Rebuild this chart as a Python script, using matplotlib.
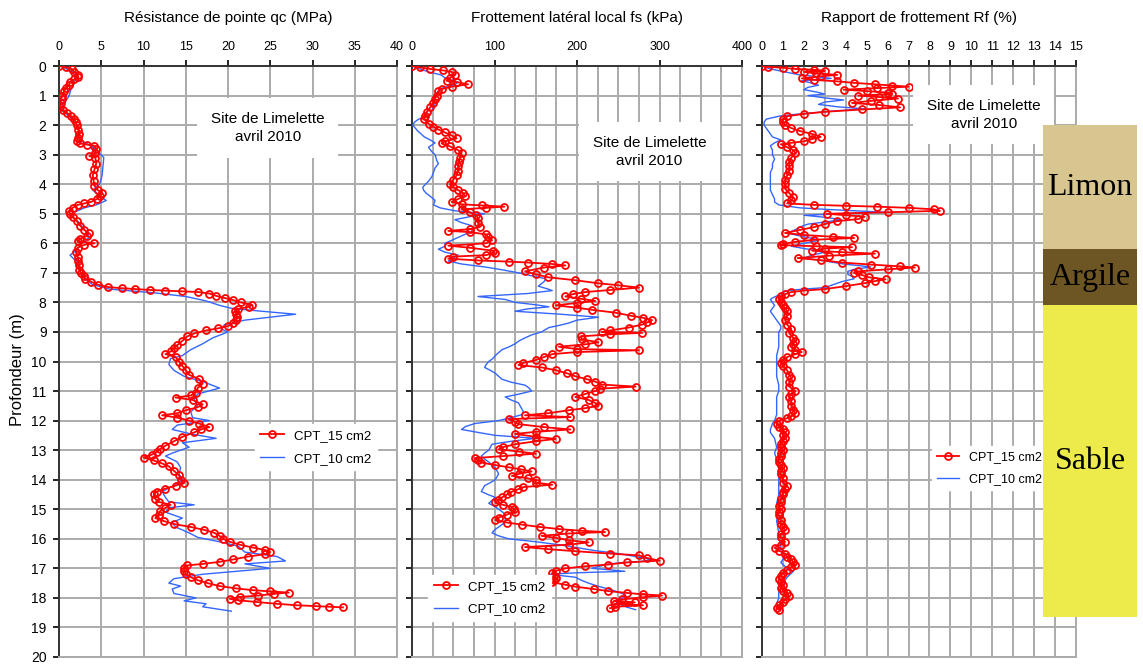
import matplotlib
matplotlib.use("Agg")
import matplotlib.pyplot as plt
from matplotlib.ticker import MultipleLocator

plt.rcParams['font.family'] = ['Liberation Sans', 'DejaVu Sans']

# --- qc (MPa), CPT 15 cm2 ---
qc15_z = [0.00, 0.05, 0.10, 0.20, 0.30, 0.38, 0.45, 0.55, 0.65, 0.75, 0.85, 1.00, 1.10, 1.25, 1.40,
          1.50, 1.60, 1.70, 1.80, 1.90, 2.00, 2.15, 2.30, 2.45, 2.55, 2.62, 2.66, 2.70, 2.80, 2.95,
          3.05, 3.10, 3.30, 3.50, 3.70, 3.90, 4.05, 4.20, 4.30, 4.40, 4.50, 4.60, 4.65, 4.70, 4.80,
          4.90, 5.00, 5.10, 5.25, 5.40, 5.55, 5.65, 5.75, 5.85, 5.92, 6.00, 6.05, 6.15, 6.30, 6.45,
          6.60, 6.75, 6.90, 7.00, 7.10, 7.20, 7.30, 7.40, 7.48, 7.52, 7.55, 7.58, 7.60, 7.62, 7.65,
          7.70, 7.78, 7.85, 7.92, 8.00, 8.08, 8.15, 8.22, 8.30, 8.40, 8.50, 8.60, 8.70, 8.80, 8.88,
          8.95, 9.05, 9.15, 9.30, 9.45, 9.55, 9.65, 9.75, 9.85, 10.00, 10.15, 10.30, 10.45, 10.60,
          10.75, 10.90, 11.05, 11.15, 11.22, 11.30, 11.45, 11.55, 11.65, 11.75, 11.82, 11.90, 12.00,
          12.10, 12.22, 12.30, 12.40, 12.55, 12.70, 12.85, 12.95, 13.05, 13.15, 13.25, 13.35, 13.45,
          13.55, 13.70, 13.85, 14.00, 14.10, 14.20, 14.30, 14.40, 14.50, 14.65, 14.75, 14.85, 14.95,
          15.05, 15.20, 15.30, 15.40, 15.50, 15.60, 15.70, 15.80, 15.90, 16.00, 16.10, 16.20, 16.30,
          16.38, 16.45, 16.52, 16.60, 16.70, 16.78, 16.85, 16.90, 17.00, 17.10, 17.20, 17.30, 17.40,
          17.50, 17.60, 17.68, 17.74, 17.78, 17.82, 17.86, 17.92, 17.97, 18.03, 18.08, 18.14, 18.20,
          18.25, 18.28, 18.30, 18.32]
qc15_v = [0.0, 0.8, 1.5, 1.8, 2.2, 2.3, 1.8, 1.3, 1.2, 0.8, 0.6, 0.4, 0.3, 0.2, 0.1,
          0.5, 1.0, 1.4, 1.8, 2.0, 2.1, 2.3, 2.4, 2.2, 2.1, 2.5, 3.3, 4.2, 4.4, 4.3,
          3.6, 4.3, 4.4, 4.2, 4.0, 4.1, 4.2, 4.6, 5.1, 4.9, 4.5, 3.8, 3.0, 2.2, 1.6,
          1.2, 1.3, 1.6, 2.1, 2.5, 3.0, 3.5, 3.3, 2.5, 2.2, 4.2, 3.0, 2.2, 2.0, 2.2,
          2.3, 2.4, 2.4, 2.6, 3.0, 3.1, 3.8, 4.6, 5.8, 7.4, 9.0, 10.8, 12.5, 14.5, 16.5,
          17.8, 18.6, 19.6, 20.6, 21.5, 22.8, 22.5, 21.2, 20.8, 21.0, 21.1, 21.0, 20.6, 20.0, 18.8,
          17.4, 16.0, 15.2, 14.6, 14.0, 13.6, 13.3, 12.6, 13.8, 14.2, 14.6, 15.0, 15.4, 16.6,
          17.0, 16.4, 16.2, 15.6, 13.8, 15.8, 17.0, 16.4, 15.0, 14.0, 12.2, 14.0, 15.4,
          16.6, 17.8, 16.8, 16.0, 14.6, 13.6, 12.6, 12.0, 11.6, 11.0, 10.0, 11.2, 12.2,
          13.0, 13.6, 14.2, 14.4, 14.8, 13.8, 12.6, 11.6, 11.2, 11.4, 11.8, 13.2, 12.6,
          12.0, 11.8, 11.4, 12.4, 13.6, 15.6, 17.2, 18.4, 19.0, 19.4, 20.2, 21.4, 23.0,
          24.4, 25.0, 24.4, 22.4, 20.6, 19.0, 17.0, 15.2, 14.8, 14.8, 15.0, 15.6, 16.4,
          17.6, 19.0, 21.0, 23.0, 25.0, 27.2, 25.5, 23.6, 21.4, 20.2, 21.2, 23.4, 25.8,
          28.2, 30.4, 32.0, 33.6]

# --- qc (MPa), CPT 10 cm2 ---
qc10_z = [0.0, 0.2, 0.4, 0.6, 0.8, 1.0, 1.1, 1.3, 1.5, 1.7, 1.9, 2.2, 2.5, 2.7, 2.9, 3.1, 3.4, 3.7,
          4.0, 4.2, 4.4, 4.55, 4.7, 4.8, 4.95, 5.1, 5.3, 5.6, 5.8, 6.0, 6.2, 6.4, 6.6, 6.8, 7.0, 7.2,
          7.4, 7.55, 7.68, 7.8, 7.95, 8.1, 8.2, 8.3, 8.4, 8.5, 8.6, 8.75, 8.9, 9.0, 9.2, 9.4, 9.6,
          9.8, 9.9, 10.1, 10.3, 10.5, 10.7, 10.9, 11.1, 11.3, 11.5, 11.7, 11.9, 12.0, 12.15, 12.3,
          12.45, 12.6, 12.75, 12.9, 13.1, 13.2, 13.4, 13.6, 13.8, 14.0, 14.2, 14.4, 14.6, 14.75,
          14.85, 14.95, 15.1, 15.3, 15.45, 15.6, 15.8, 15.95, 16.1, 16.25, 16.45, 16.6, 16.75,
          16.85, 17.0, 17.1, 17.2, 17.35, 17.5, 17.6, 17.7, 17.85, 18.0, 18.1, 18.2, 18.3, 18.45]
qc10_v = [0.2, 1.6, 2.0, 1.8, 1.4, 1.2, 1.0, 0.4, 0.3, 1.2, 2.0, 2.4, 2.4, 3.8, 4.6, 5.3, 5.2, 5.1,
          4.8, 4.0, 4.8, 5.6, 4.4, 3.0, 1.8, 1.6, 2.4, 3.2, 3.6, 2.6, 2.2, 1.3, 2.0, 2.2, 2.6, 3.0,
          4.0, 6.0, 11.4, 15.0, 17.4, 19.0, 20.4, 24.0, 28.0, 25.0, 22.0, 19.6, 19.2, 20.0, 18.2, 17.0, 15.6,
          14.6, 13.2, 13.0, 13.6, 14.8, 17.2, 19.0, 16.4, 16.0, 16.4, 15.6, 15.8, 17.8, 14.0, 13.4,
          15.6, 18.6, 14.6, 15.4, 13.4, 12.6, 14.0, 14.4, 14.2, 14.6, 13.6, 12.2, 12.6, 13.0,
          16.0, 13.0, 12.6, 14.6, 13.4, 13.8, 15.4, 16.4, 19.0, 21.2, 22.0, 25.8, 26.8,
          22.0, 25.0, 21.0, 17.0, 13.6, 13.0, 14.4, 13.4, 13.6, 16.2, 14.8, 17.4, 17.0, 20.4]

# --- fs (kPa), CPT 15 cm2 ---
fs15_z = [0.00, 0.05, 0.10, 0.15, 0.20, 0.30, 0.40, 0.50, 0.55, 0.62, 0.70, 0.78, 0.85, 1.00, 1.10,
          1.25, 1.40, 1.55, 1.70, 1.80, 1.95, 2.05, 2.15, 2.25, 2.35, 2.45, 2.55, 2.62, 2.72, 2.85,
          2.95, 3.10, 3.25, 3.40, 3.55, 3.70, 3.85, 4.00, 4.10, 4.20, 4.30, 4.40, 4.50, 4.60, 4.68,
          4.72, 4.76, 4.80, 4.85, 4.95, 5.05, 5.15, 5.30, 5.45, 5.52, 5.58, 5.62, 5.70, 5.80, 5.90,
          6.00, 6.08, 6.15, 6.25, 6.32, 6.40, 6.45, 6.52, 6.58, 6.62, 6.65, 6.70, 6.75, 6.82, 6.95,
          7.05, 7.15, 7.25, 7.35, 7.42, 7.50, 7.58, 7.65, 7.72, 7.80, 7.88, 7.95, 8.02, 8.10, 8.18,
          8.25, 8.35, 8.45, 8.52, 8.60, 8.68, 8.75, 8.85, 8.95, 9.00, 9.03, 9.08, 9.15, 9.25, 9.35,
          9.42, 9.50, 9.58, 9.62, 9.68, 9.75, 9.85, 9.95, 10.05, 10.12, 10.20, 10.30, 10.40, 10.50,
          10.60, 10.68, 10.78, 10.85, 10.92, 11.00, 11.10, 11.20, 11.30, 11.40, 11.50, 11.58, 11.65,
          11.75, 11.82, 11.88, 11.95, 12.05, 12.12, 12.22, 12.30, 12.38, 12.45, 12.55, 12.62, 12.70,
          12.80, 12.90, 12.97, 13.05, 13.12, 13.20, 13.27, 13.35, 13.42, 13.50, 13.58, 13.65, 13.72,
          13.80, 13.87, 13.95, 14.02, 14.10, 14.17, 14.25, 14.32, 14.42, 14.50, 14.60, 14.70, 14.77,
          14.85, 14.92, 15.00, 15.08, 15.18, 15.28, 15.36, 15.45, 15.52, 15.60, 15.67, 15.73, 15.77,
          15.82, 15.90, 15.97, 16.05, 16.12, 16.20, 16.28, 16.35, 16.42, 16.50, 16.56, 16.65, 16.74,
          16.80, 16.87, 16.93, 17.00, 17.08, 17.15, 17.25, 17.32, 17.40, 17.47, 17.55, 17.62, 17.70,
          17.77, 17.83, 17.88, 17.92, 17.98, 18.05, 18.10, 18.15, 18.20, 18.25, 18.30, 18.35]
fs15_v = [0, 10, 22, 38, 48, 52, 46, 42, 55, 68, 48, 36, 32, 30, 28,
          26, 22, 18, 16, 15, 20, 26, 32, 40, 48, 54, 40, 36, 46, 56,
          60, 58, 57, 56, 56, 54, 50, 46, 50, 56, 62, 64, 56, 48, 60,
          85, 112, 90, 60, 70, 78, 80, 80, 82, 70, 44, 70, 90, 92, 97,
          90, 44, 70, 98, 100, 90, 50, 44, 80, 117, 140, 170, 186, 160, 137,
          150, 165, 198, 225, 250, 275, 240, 210, 195, 186, 205, 222, 200, 174, 200,
          218, 247, 265, 280, 291, 285, 279, 263, 240, 230, 279, 240, 205, 206, 226,
          210, 178, 200, 275, 200, 170, 160, 150, 135, 129, 157, 175, 188, 198,
          212, 222, 230, 271, 228, 222, 210, 198, 214, 222, 226, 210, 190,
          165, 137, 192, 117, 125, 129, 160, 192, 150, 125, 150, 174, 150,
          125, 110, 105, 130, 150, 110, 76, 80, 84, 100, 117, 132, 145,
          130, 121, 140, 150, 150, 170, 135, 129, 120, 115, 109, 104, 101,
          110, 121, 124, 125, 115, 105, 101, 115, 133, 155, 178, 206, 234,
          190, 157, 175, 190, 214, 190, 137, 165, 198, 240, 275, 285, 300,
          260, 238, 210, 186, 175, 170, 172, 174, 172, 170, 185, 198, 220,
          238, 260, 280, 303, 280, 255, 245, 270, 246, 280, 246, 240]

# --- fs (kPa), CPT 10 cm2 ---
fs10_z = [0.0, 0.1, 0.2, 0.3, 0.4, 0.55, 0.65, 0.75, 0.9, 1.0, 1.15, 1.3, 1.5, 1.7, 1.8, 1.9, 2.0,
          2.2, 2.4, 2.5, 2.6, 2.75, 2.9, 3.0, 3.2, 3.3, 3.45, 3.6, 3.75, 3.9, 4.1, 4.2, 4.3, 4.45,
          4.55, 4.7, 4.8, 4.9, 5.0, 5.1, 5.2, 5.3, 5.4, 5.5, 5.6, 5.75, 5.85, 6.0, 6.1, 6.2, 6.3,
          6.4, 6.5, 6.6, 6.7, 6.8, 6.9, 7.0, 7.1, 7.2, 7.3, 7.45, 7.55, 7.6, 7.7, 7.8, 7.9, 8.0,
          8.08, 8.15, 8.22, 8.3, 8.4, 8.5, 8.6, 8.7, 8.8, 8.85, 9.0, 9.1, 9.2, 9.3, 9.4, 9.5, 9.6,
          9.7, 9.8, 9.9, 10.0, 10.1, 10.2, 10.3, 10.4, 10.5, 10.6, 10.7, 10.8, 10.9, 11.0, 11.1,
          11.2, 11.3, 11.4, 11.5, 11.6, 11.7, 11.8, 11.9, 12.0, 12.1, 12.2, 12.3, 12.4, 12.5, 12.6,
          12.7, 12.8, 12.9, 13.0, 13.1, 13.2, 13.3, 13.4, 13.5, 13.6, 13.7, 13.8, 13.9, 14.0, 14.1,
          14.2, 14.3, 14.4, 14.5, 14.6, 14.7, 14.8, 14.9, 15.0, 15.1, 15.2, 15.3, 15.4, 15.5, 15.6,
          15.7, 15.8, 15.9, 16.0, 16.1, 16.2, 16.3, 16.4, 16.5, 16.6, 16.7, 16.75, 16.85, 16.95,
          17.0, 17.05, 17.1, 17.15, 17.2, 17.3, 17.4, 17.5, 17.6, 17.7, 17.8, 17.9, 18.0, 18.1,
          18.2, 18.3, 18.4]
fs10_v = [0, 10, 20, 35, 40, 56, 50, 36, 30, 28, 26, 28, 24, 20, 8, 3, 1,
          7, 15, 22, 28, 20, 24, 28, 30, 32, 28, 26, 24, 20, 13, 14, 17, 24,
          28, 26, 34, 52, 88, 70, 52, 60, 72, 74, 72, 60, 52, 40, 40, 32, 40,
          56, 50, 44, 60, 88, 110, 129, 145, 162, 160, 153, 165, 170, 140, 80, 113, 125,
          150, 166, 140, 125, 180, 226, 200, 190, 175, 166, 157, 145, 137, 130, 125, 118, 109,
          105, 101, 98, 93, 90, 88, 95, 101, 105, 109, 120, 137, 142, 145, 130,
          113, 120, 129, 131, 133, 135, 133, 120, 105, 76, 65, 60, 80, 101, 150,
          120, 97, 95, 93, 88, 84, 88, 93, 97, 101, 103, 105, 103, 101, 95,
          88, 86, 84, 92, 101, 97, 93, 100, 105, 110, 113, 113, 113, 110, 105,
          100, 97, 105, 117, 150, 178, 200, 222, 250, 271, 290, 283, 238, 225,
          218, 240, 258, 200, 166, 198, 205, 214, 225, 238, 250, 259, 255, 246,
          250, 259, 271]

# --- Rf (%), CPT 15 cm2 ---
rf15_z = [0.00, 0.03, 0.06, 0.10, 0.13, 0.16, 0.20, 0.25, 0.30, 0.35, 0.42, 0.47, 0.52, 0.57, 0.62,
          0.66, 0.70, 0.75, 0.80, 0.85, 0.90, 0.95, 1.00, 1.05, 1.10, 1.18, 1.25, 1.32, 1.40, 1.47,
          1.55, 1.62, 1.70, 1.80, 1.90, 2.00, 2.10, 2.20, 2.30, 2.40, 2.47, 2.55, 2.60, 2.65, 2.75,
          2.85, 2.95, 3.10, 3.25, 3.40, 3.55, 3.70, 3.85, 4.00, 4.15, 4.30, 4.45, 4.55, 4.65, 4.70,
          4.73, 4.76, 4.80, 4.85, 4.90, 4.95, 5.00, 5.05, 5.10, 5.18, 5.25, 5.35, 5.45, 5.55, 5.65,
          5.72, 5.78, 5.82, 5.88, 5.95, 6.02, 6.06, 6.10, 6.13, 6.18, 6.25, 6.30, 6.35, 6.42, 6.50,
          6.57, 6.65, 6.72, 6.78, 6.82, 6.88, 6.95, 7.00, 7.08, 7.15, 7.22, 7.28, 7.35, 7.45, 7.55,
          7.60, 7.65, 7.72, 7.80, 7.90, 8.00, 8.10, 8.20, 8.30, 8.45, 8.60, 8.75, 8.90, 9.05, 9.20,
          9.30, 9.40, 9.50, 9.60, 9.68, 9.75, 9.85, 9.95, 10.05, 10.15, 10.30, 10.45, 10.55, 10.70,
          10.85, 11.00, 11.10, 11.20, 11.35, 11.50, 11.65, 11.75, 11.85, 11.92, 12.00, 12.10, 12.20,
          12.30, 12.40, 12.50, 12.60, 12.70, 12.80, 12.90, 13.00, 13.10, 13.20, 13.30, 13.40, 13.50,
          13.60, 13.70, 13.80, 13.95, 14.10, 14.20, 14.30, 14.40, 14.50, 14.65, 14.75, 14.90, 15.00,
          15.10, 15.20, 15.35, 15.50, 15.60, 15.70, 15.85, 15.95, 16.10, 16.20, 16.30, 16.40, 16.50,
          16.60, 16.70, 16.80, 16.88, 16.95, 17.05, 17.15, 17.25, 17.35, 17.45, 17.55, 17.65, 17.75,
          17.85, 17.95, 18.05, 18.15, 18.25, 18.35, 18.40]
rf15_v = [0.0, 0.3, 1.0, 1.6, 2.5, 3.0, 2.0, 2.6, 3.6, 2.8, 1.9, 2.5, 3.6, 4.4, 5.4,
          6.2, 7.0, 5.5, 3.9, 5.0, 6.0, 6.2, 4.6, 5.6, 6.5, 5.2, 4.3, 5.6, 6.6, 4.8,
          3.0, 2.0, 1.2, 1.0, 1.0, 1.1, 1.4, 1.8, 2.4, 2.8, 2.4, 2.0, 1.4, 0.9, 1.2,
          1.5, 1.6, 1.4, 1.3, 1.3, 1.3, 1.2, 1.1, 1.1, 1.1, 1.3, 1.5, 1.4, 1.2, 2.5,
          4.0, 5.5, 7.0, 8.2, 8.5, 6.0, 3.1, 4.0, 4.9, 4.6, 3.6, 3.0, 2.5, 1.8, 1.1,
          2.0, 3.4, 4.4, 2.5, 1.6, 1.0, 0.9, 2.6, 4.3, 3.0, 2.4, 3.8, 5.4, 3.2, 1.7,
          2.8, 3.8, 5.2, 6.6, 7.3, 6.0, 4.6, 4.4, 4.8, 5.1, 5.9, 5.4, 4.9, 4.0, 3.0,
          2.0, 1.4, 1.1, 0.9, 0.8, 0.9, 1.0, 1.1, 1.2, 1.2, 1.1, 1.2, 1.4, 1.3, 1.5,
          1.6, 1.5, 1.4, 1.6, 1.9, 1.6, 1.2, 1.0, 0.9, 1.0, 1.2, 1.3, 1.4, 1.3,
          1.3, 1.6, 1.4, 1.3, 1.4, 1.4, 1.5, 1.6, 1.4, 1.2, 0.8, 0.7, 0.8,
          1.0, 1.1, 1.0, 1.1, 1.0, 0.9, 0.9, 1.0, 0.9, 0.9, 0.8, 0.8, 0.9,
          1.0, 0.9, 0.9, 1.0, 1.0, 1.2, 1.1, 1.0, 1.0, 0.9, 0.9, 0.8, 0.9,
          0.8, 0.8, 0.9, 0.9, 1.0, 1.1, 0.9, 0.9, 1.1, 0.9, 0.6, 0.8, 1.1,
          1.2, 1.4, 1.5, 1.6, 1.4, 1.2, 1.0, 0.9, 0.8, 0.9, 1.0, 0.9, 1.0,
          1.2, 1.3, 1.1, 1.0, 0.8, 0.7, 0.8]

# --- Rf (%), CPT 10 cm2 ---
rf10_z = [0.0, 0.1, 0.2, 0.3, 0.35, 0.42, 0.5, 0.58, 0.65, 0.72, 0.8, 0.88, 0.95, 1.0, 1.08, 1.15,
          1.22, 1.3, 1.38, 1.45, 1.52, 1.58, 1.65, 1.7, 1.8, 1.9, 2.0, 2.1, 2.2, 2.3, 2.4, 2.5, 2.6,
          2.7, 2.85, 3.0, 3.15, 3.3, 3.45, 3.6, 3.75, 3.9, 4.05, 4.2, 4.35, 4.5, 4.6, 4.7, 4.8, 4.85,
          4.9, 4.95, 5.0, 5.05, 5.12, 5.2, 5.28, 5.35, 5.45, 5.5, 5.6, 5.65, 5.75, 5.85, 5.9, 6.0,
          6.1, 6.2, 6.3, 6.4, 6.5, 6.6, 6.7, 6.8, 6.88, 6.95, 7.05, 7.12, 7.2, 7.3, 7.4, 7.5, 7.55,
          7.6, 7.7, 7.75, 7.85, 7.9, 8.0, 8.1, 8.2, 8.3, 8.4, 8.5, 8.6, 8.7, 8.8, 8.9, 9.0, 9.2,
          9.5, 9.8, 10.0, 10.3, 10.5, 10.8, 11.0, 11.2, 11.5, 11.8, 12.0, 12.1, 12.3, 12.4, 12.6,
          12.9, 13.1, 13.3, 13.5, 13.7, 14.1, 14.5, 14.8, 15.0, 15.4, 15.8, 16.0, 16.2, 16.4, 16.6,
          16.7, 16.8, 17.0, 17.1, 17.3, 17.5, 17.6, 17.8, 18.0, 18.2, 18.4]
rf10_v = [0.0, 0.4, 1.1, 1.8, 2.5, 3.3, 1.9, 2.4, 2.7, 2.2, 2.0, 2.6, 3.0, 2.2, 3.0, 3.9,
          3.0, 2.7, 3.6, 4.9, 3.5, 2.5, 1.4, 0.8, 0.2, 0.1, 0.1, 0.2, 0.3, 0.4, 0.5, 0.9, 0.6,
          0.4, 0.5, 0.5, 0.6, 0.5, 0.5, 0.4, 0.4, 0.4, 0.4, 0.4, 0.5, 0.6, 0.6, 0.8, 1.8, 3.0,
          4.5, 5.9, 4.0, 2.0, 3.0, 3.8, 3.0, 2.2, 1.8, 1.7, 1.4, 1.2, 1.8, 2.5, 2.7, 2.0,
          1.4, 2.2, 3.0, 2.4, 2.0, 3.0, 3.9, 5.2, 4.4, 4.1, 4.1, 4.3, 4.4, 3.8, 3.4, 3.0, 2.0,
          1.2, 0.9, 0.8, 0.5, 0.4, 0.5, 0.6, 0.5, 0.4, 0.5, 0.6, 0.7, 0.8, 0.9, 0.9, 0.8, 0.8,
          0.8, 0.7, 0.7, 0.7, 0.7, 0.8, 0.8, 0.7, 0.7, 0.7, 0.6, 0.5, 0.4, 0.4, 0.6,
          0.7, 0.6, 0.7, 0.8, 0.8, 0.8, 0.8, 0.7, 0.8, 0.7, 0.8, 0.8, 0.9, 0.9, 1.1,
          1.0, 0.9, 1.2, 1.5, 1.2, 1.0, 0.9, 0.8, 0.8, 0.7, 0.8]

# soil column
soil_names = ['Limon', 'Argile', 'Sable']
soil_top = [2.0, 6.2, 8.1]
soil_bottom = [6.2, 8.1, 18.65]
soil_colors = ['#D8C690', '#6E5524', '#ECEB4B']

titles = ['Résistance de pointe qc (MPa)', 'Frottement latéral local fs (kPa)',
          'Rapport de frottement Rf (%)']

W, H = 1143, 665
fig = plt.figure(figsize=(W / 100, H / 100), dpi=100)


def px_axes(x0, x1, y0=66, y1=657):
    return fig.add_axes([x0 / W, 1 - y1 / H, (x1 - x0) / W, (y1 - y0) / H])


def setup(ax, xmax, major, minor, ylabels):
    ax.set_xlim(0, xmax)
    ax.set_ylim(20, 0)
    ax.xaxis.set_major_locator(MultipleLocator(major))
    ax.xaxis.set_minor_locator(MultipleLocator(minor))
    ax.yaxis.set_major_locator(MultipleLocator(1))
    ax.xaxis.tick_top()
    ax.grid(which='both', color='#ABABAB', lw=1.4)
    ax.set_axisbelow(True)
    ax.tick_params(axis='x', which='major', direction='out', length=4, width=1.2,
                   labelsize=9, pad=5)
    ax.tick_params(axis='x', which='minor', length=0)
    ax.tick_params(axis='y', direction='out', length=4, width=1.2, labelsize=10,
                   labelleft=ylabels, pad=5)
    for s in ['left', 'top']:
        ax.spines[s].set_color('#333333')
        ax.spines[s].set_linewidth(1.4)
    for s in ['right', 'bottom']:
        ax.spines[s].set_color('#ABABAB')
        ax.spines[s].set_linewidth(1.4)


def draw(ax, z15, v15, z10, v10):
    # red probe: thin line with open circles, blue probe: plain line beneath
    ax.plot(v15, z15, color='red', lw=1.3, marker='o', ms=5, mfc='none',
            mec='red', mew=1.3, zorder=4, label='CPT_15 cm2')
    ax.plot(v10, z10, color='#3366FF', lw=1, zorder=3, label='CPT_10 cm2')


def site_box(ax, x, z):
    ax.text(x, z, 'Site de Limelette\navril 2010', ha='center', va='center', fontsize=11,
            linespacing=1.35, zorder=5,
            bbox=dict(boxstyle='square,pad=0.9', fc='white', ec='none'))


ax1 = px_axes(59, 397)
setup(ax1, 40, 5, 5, True)
draw(ax1, qc15_z, qc15_v, qc10_z, qc10_v)
site_box(ax1, 24.7, 2.1)
ax1.legend(loc='center left', bbox_to_anchor=(0.56, 0.355), fontsize=9.5, frameon=True,
           fancybox=False, edgecolor='white', framealpha=1, handlelength=1.8, labelspacing=0.8)

ax2 = px_axes(412, 742)
setup(ax2, 400, 100, 25, False)
draw(ax2, fs15_z, fs15_v, fs10_z, fs10_v)
site_box(ax2, 288, 2.9)
ax2.legend(loc='center left', bbox_to_anchor=(0.03, 0.1), fontsize=9.5, frameon=True,
           fancybox=False, edgecolor='white', framealpha=1, handlelength=1.8, labelspacing=0.8)

ax3 = px_axes(762, 1076)
setup(ax3, 15, 1, 1, False)
draw(ax3, rf15_z, rf15_v, rf10_z, rf10_v)
site_box(ax3, 10.6, 1.65)
ax3.legend(loc='center left', bbox_to_anchor=(0.52, 0.32), fontsize=9, frameon=True,
           fancybox=False, edgecolor='white', framealpha=1, handlelength=1.8, labelspacing=0.8)

for ax, t in zip([ax1, ax2, ax3], titles):
    pos = ax.get_position()
    fig.text((pos.x0 + pos.x1) / 2, 1 - 18 / H, t, ha='center', va='center', fontsize=11)

fig.text(18 / W, 1 - 370 / H, 'Profondeur (m)', rotation=90, ha='center', va='center',
         fontsize=12)

# soil column drawn on top of the third panel
axc = px_axes(1043, 1137)
axc.set_xlim(0, 1)
axc.set_ylim(20, 0)
axc.axis('off')
for name, top, bot, col in zip(soil_names, soil_top, soil_bottom, soil_colors):
    axc.bar(0.5, bot - top, bottom=top, width=1, color=col)
    axc.text(0.5, (top + bot) / 2, name, ha='center', va='center', fontsize=23,
             family=['Liberation Serif', 'DejaVu Serif'], color='black')

fig.savefig('out.png', dpi=100)
